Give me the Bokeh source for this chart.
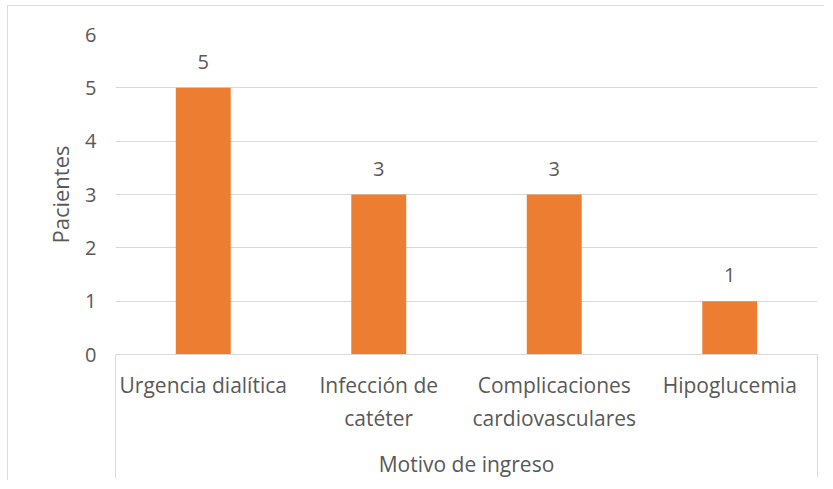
from bokeh.plotting import figure
from bokeh.models import ColumnDataSource, Range1d, FixedTicker
from bokeh.embed import file_html
from bokeh.resources import INLINE
from bokeh.core.properties import value

categories = ["Urgencia dialítica", "Infección de\ncatéter", "Complicaciones\ncardiovasculares", "Hipoglucemia"]
pacientes = [5, 3, 3, 1]
y_ticks = [0, 1, 2, 3, 4, 5, 6]

BAR = "#ED7D31"
TXT = "#595959"
GRID = "#d9d9d9"
FONT = "Open Sans"

positions = [i + 0.5 for i in range(len(categories))]
src = ColumnDataSource(dict(x=positions, top=pacientes, lab=[str(v) for v in pacientes]))

p = figure(width=817, height=475, x_range=Range1d(0, len(categories)), y_range=Range1d(0, 6),
           output_backend="svg", toolbar_location=None,
           min_border_left=107, min_border_top=28, min_border_right=8, min_border_bottom=127)
p.styles = {"border-left": "1px solid #d9d9d9", "border-top": "1px solid #d9d9d9",
            "margin-left": "7px", "margin-top": "5px"}
p.outline_line_color = None
p.background_fill_color = "white"

p.vbar(x="x", top="top", width=0.313, bottom=0, source=src, fill_color=BAR, line_color=None)
p.text(x="x", y="top", text="lab", source=src, text_align="center", text_baseline="alphabetic",
       y_offset=-26, text_font=value(FONT), text_font_size="20px", text_color=TXT)

p.xgrid.visible = False
p.ygrid.grid_line_color = GRID
p.ygrid.ticker = FixedTicker(ticks=y_ticks)

xa = p.xaxis[0]
xa.ticker = FixedTicker(ticks=positions, minor_ticks=[0, len(categories)])
xa.major_label_overrides = {pos: cat for pos, cat in zip(positions, categories)}
xa.major_tick_out = 0
xa.major_tick_in = 0
xa.major_tick_line_color = None
xa.minor_tick_in = -123
xa.minor_tick_out = 0
xa.minor_tick_line_color = GRID
xa.axis_line_color = GRID
xa.major_label_standoff = 16
xa.major_label_text_font = FONT
xa.major_label_text_font_size = "21px"
xa.major_label_text_color = TXT
xa.axis_label = "Motivo de ingreso"
xa.axis_label_text_font = FONT
xa.axis_label_text_font_size = "21px"
xa.axis_label_text_font_style = "normal"
xa.axis_label_text_color = TXT
xa.axis_label_standoff = 15

ya = p.yaxis[0]
ya.ticker = FixedTicker(ticks=y_ticks)
ya.major_tick_out = 0
ya.major_tick_in = 0
ya.major_tick_line_color = None
ya.minor_tick_line_color = None
ya.axis_line_color = None
ya.major_label_standoff = 19
ya.major_label_text_font = FONT
ya.major_label_text_font_size = "20px"
ya.major_label_text_color = TXT
ya.axis_label = "Pacientes"
ya.axis_label_text_font = FONT
ya.axis_label_text_font_size = "22px"
ya.axis_label_text_font_style = "normal"
ya.axis_label_text_color = TXT
ya.axis_label_standoff = 7

open("out.html", "w").write(file_html(p, INLINE))
